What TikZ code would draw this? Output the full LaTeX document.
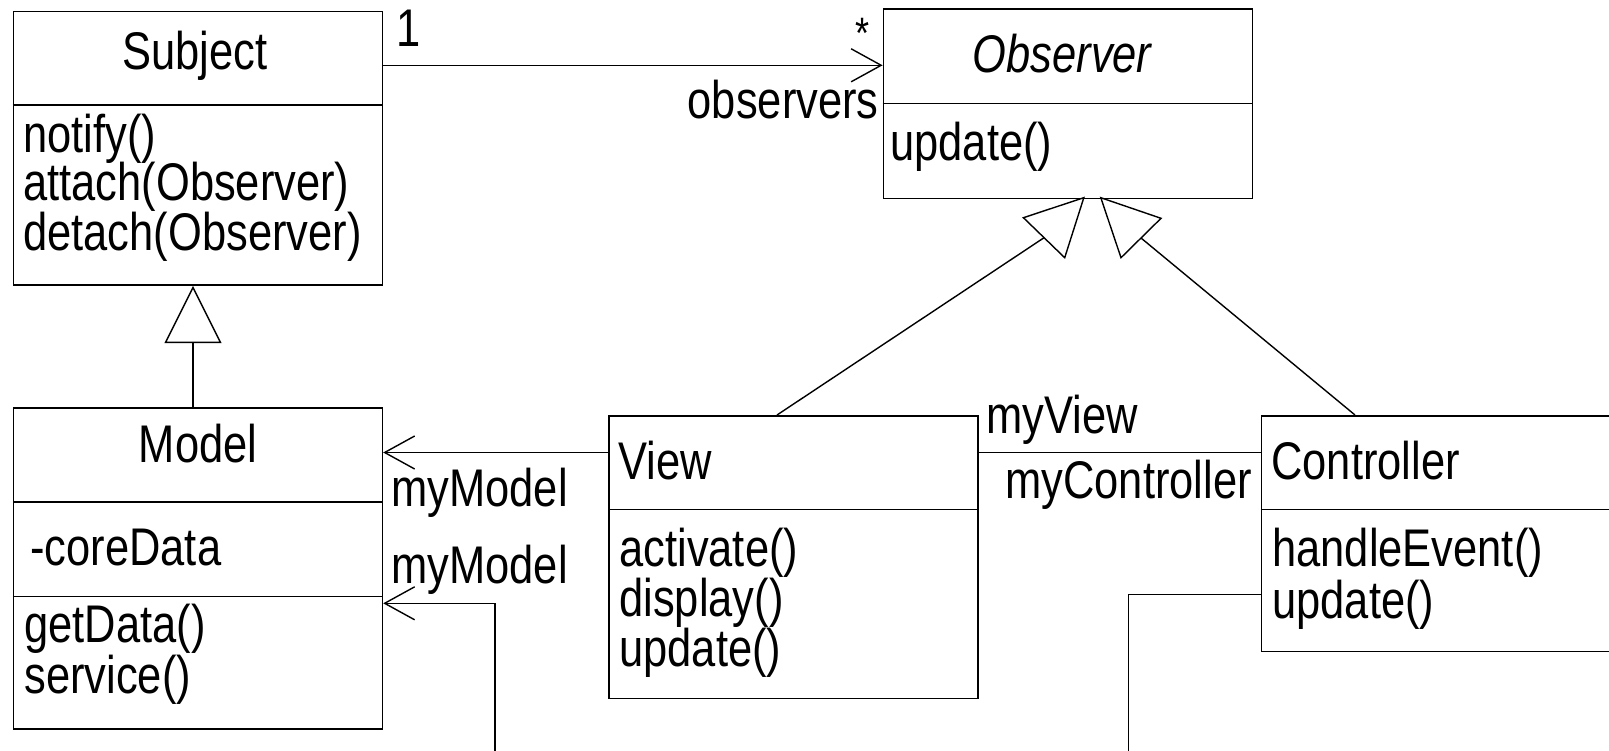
\documentclass[tikz,border=0pt]{standalone}
\usepackage{fontspec}
\newfontfamily\umlfont[FakeStretch=0.82]{Liberation Sans}
\usetikzlibrary{arrows.meta,calc}
\begin{document}
\begin{tikzpicture}[x={(0.5pt,0)}, y={(0,-0.5pt)},
  umlbox/.style={draw, rectangle, inner sep=0pt, anchor=north west, line width=0.8pt},
  txt/.style={inner sep=0pt, font=\umlfont\fontsize{26.5pt}{30pt}\selectfont},
  conn/.style={line width=0.7pt, line join=miter},
  assoc/.style={conn, -{Straight Barb[length=15pt, width=16.5pt, line width=0.7pt]}},
  gen/.style={conn, -{Triangle[open, length=28.6pt, width=28.4pt, line width=0.7pt]}},
  tri/.style={line width=0.7pt, line join=miter}]
\useasboundingbox (0,0) rectangle (1609,750);
\fill[white] (0,0) rectangle (1609,750);
\clip (0,0) rectangle (1609,750);

% boxes
\node[umlbox, minimum width=184.55pt, minimum height=136.8pt] (Subject) at (12.6,10.7) {};
\node[umlbox, minimum width=184.45pt, minimum height=94.7pt] (Observer) at (882.6,8.3) {};
\node[umlbox, minimum width=184.4pt, minimum height=160.5pt] (Model) at (12.8,407.3) {};
\node[umlbox, minimum width=184.3pt, minimum height=141.25pt] (View) at (608.4,415) {};
\node[umlbox, minimum width=189.6pt, minimum height=117.85pt] (Controller) at (1260.8,415) {};

% dividers
\draw[line width=0.8pt] (Subject.west |- 0,105) -- (Subject.east |- 0,105);
\draw[line width=0.8pt] (Observer.west |- 0,103.3) -- (Observer.east |- 0,103.3);
\draw[line width=0.8pt] (Model.west |- 0,501.7) -- (Model.east |- 0,501.7);
\draw[line width=0.8pt] (Model.west |- 0,596.5) -- (Model.east |- 0,596.5);
\draw[line width=0.8pt] (View.west |- 0,509.3) -- (View.east |- 0,509.3);
\draw[line width=0.8pt] (Controller.west |- 0,509.3) -- (Controller.east |- 0,509.3);

% texts
\node[txt, anchor=base] (tSubject) at (195,69) {Subject};
\node[txt, anchor=base west] (tS1) at (23,152) {notify()};
\node[txt, anchor=base west] (tS2) at (23,200) {attach(Observer)};
\node[txt, anchor=base west] (tS3) at (23,250) {detach(Observer)};
\node[txt, anchor=base] (tObserver) at (1062,72.7) {\itshape Observer};
\node[txt, anchor=base west] (tO1) at (890,160) {update()};
\node[txt, anchor=base] (tModel) at (198,462.7) {Model};
\node[txt, anchor=base west] (tM0) at (30,565.7) {-coreData};
\node[txt, anchor=base west] (tM1) at (24,642) {getData()};
\node[txt, anchor=base west] (tM2) at (24,693) {service()};
\node[txt, anchor=base west] (tView) at (618,479) {View};
\node[txt, anchor=base west] (tV1) at (619,566) {activate()};
\node[txt, anchor=base west] (tV2) at (619,616) {display()};
\node[txt, anchor=base west] (tV3) at (619,666) {update()};
\node[txt, anchor=base west] (tController) at (1271,479) {Controller};
\node[txt, anchor=base west] (tC1) at (1272,566) {handleEvent()};
\node[txt, anchor=base west] (tC2) at (1272,618) {update()};

% association labels
\node[txt, anchor=base west] (lOne) at (396,46) {1};
\node[txt, anchor=base, font=\umlfont\fontsize{22pt}{26pt}\selectfont] (lStar) at (863,48) {*};
\node[txt, anchor=base east] (lObs) at (879,118) {observers};
\node[txt, anchor=base west] (lMM1) at (391,506) {myModel};
\node[txt, anchor=base west] (lMM2) at (391,583) {myModel};
\node[txt, anchor=base west] (lMV) at (986,433) {myView};
\node[txt, anchor=base west] (lMC) at (1005,498) {myController};

% associations
\draw[assoc] (Subject.east |- 0,65.3) -- (Observer.west |- 0,65.3);
\draw[assoc] (View.west |- 0,452.5) -- (Model.east |- 0,452.5);
\draw[conn] (View.east |- 0,452.5) -- (Controller.west |- 0,452.5);
\coordinate (mEnd) at (495,760);
\draw[assoc] (mEnd) |- (Model.east |- 0,603.3);
\coordinate (cEnd) at (1128.7,760);
\draw[conn] (Controller.west |- 0,594.3) -| (cEnd);

% generalization Model -> Subject
\draw[gen] (Model.north -| 193,0) -- (Subject.south -| 193,0);

% generalizations View/Controller -> Observer
\coordinate (A1) at (1083.8,197.7);
\coordinate (B1) at (1023.4,217.7);
\coordinate (C1) at (1064.7,257.7);
\coordinate (A2) at (1100.8,197.7);
\coordinate (B2) at (1161,218.3);
\coordinate (C2) at (1121,257.7);
\draw[tri] (A1) -- (B1) -- (C1) -- cycle;
\draw[tri] (A2) -- (B2) -- (C2) -- cycle;
\draw[conn] (View.north -| 777,0) -- ($(B1)!0.5!(C1)$);
\draw[conn] (Controller.north -| 1355,0) -- ($(B2)!0.5!(C2)$);
\end{tikzpicture}
\end{document}
